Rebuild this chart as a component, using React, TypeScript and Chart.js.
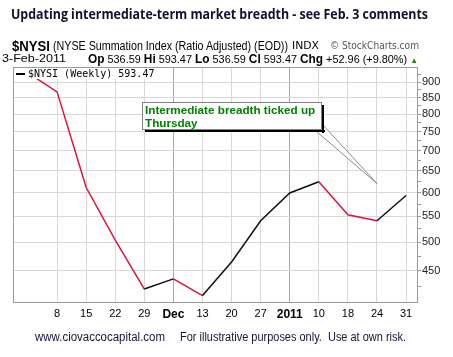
import React, { useEffect, useLayoutEffect, useRef } from "react";
import { Chart, registerables } from "chart.js";

Chart.register(...registerables);

const weeks: string[] = ["Nov 1", "Nov 8", "Nov 15", "Nov 22", "Nov 29", "Dec 6", "Dec 13", "Dec 20", "Dec 27", "Jan 3", "Jan 10", "Jan 18", "Jan 24", "Jan 31"];
const xTickLabels: string[] = ["", "8", "15", "22", "29", "Dec", "13", "20", "27", "2011", "10", "18", "24", "31"];
const boldTicks: string[] = ["Dec", "2011"];
const nysiValues: number[] = [931, 868, 611, 504, 421, 437, 411, 465, 541, 599, 624, 553, 541, 593.47];
const yMajorTicks: number[] = [450, 500, 550, 600, 650, 700, 750, 800, 850, 900];
const yMinorTicks: number[] = [425, 475, 525, 575, 625, 675, 725, 775, 825, 875, 925];
const annotationLines: string[] = ["Intermediate breadth ticked up", "Thursday"];
const annotationTarget = { index: 12, value: 620 };

const RED = "#dc143c";
const BLACK = "#111111";
const FONT = "'Liberation Sans', Arial, sans-serif";

const framePlugin = {
  id: "frameAndNotes",
  beforeDatasetsDraw(chart: any) {
    const { ctx, chartArea: a } = chart;
    ctx.save();
    ctx.strokeStyle = "#9a9a9a";
    ctx.lineWidth = 1;
    ctx.strokeRect(Math.round(a.left) + 0.5, Math.round(a.top) + 0.5, Math.round(a.right - a.left) - 1, Math.round(a.bottom - a.top) - 1);
    ctx.restore();
  },
  afterDatasetsDraw(chart: any) {
    const { ctx, chartArea: a, scales } = chart;
    const xs = scales.x;
    const ys = scales.y;
    ctx.save();
    // legend
    ctx.fillStyle = "#ffffff";
    ctx.fillRect(a.left + 1, a.top + 1, 150, 11);
    ctx.fillStyle = "#000";
    ctx.fillRect(a.left + 3, a.top + 6, 9, 2);
    ctx.font = "10px 'DejaVu Sans Mono', monospace";
    ctx.textBaseline = "middle";
    ctx.fillText("$NYSI (Weekly) " + nysiValues[nysiValues.length - 1].toFixed(2), a.left + 15, a.top + 7);

    // annotation box
    const bl = Math.round(xs.getPixelForValue(4)) - 2;
    const br = Math.round(xs.getPixelForValue(10)) + 3;
    const bt = Math.round(ys.getPixelForValue(835));
    const bb = bt + 28;
    const tx = xs.getPixelForValue(annotationTarget.index);
    const ty = ys.getPixelForValue(annotationTarget.value);
    ctx.beginPath();
    ctx.moveTo(br - 6, bb + 1);
    ctx.lineTo(tx, ty);
    ctx.lineTo(br + 1, bb - 5);
    ctx.closePath();
    ctx.fillStyle = "#fff";
    ctx.fill();
    ctx.beginPath();
    ctx.moveTo(br - 6, bb + 1);
    ctx.lineTo(tx, ty);
    ctx.lineTo(br + 1, bb - 5);
    ctx.strokeStyle = "#8a8a8a";
    ctx.lineWidth = 1;
    ctx.stroke();
    ctx.fillStyle = "#000";
    ctx.fillRect(bl + 3, bb, br - bl, 2);
    ctx.fillRect(br, bt + 3, 2, bb - bt);
    ctx.fillStyle = "#fff";
    ctx.fillRect(bl, bt, br - bl, bb - bt);
    ctx.strokeStyle = "#808080";
    ctx.strokeRect(bl + 0.5, bt + 0.5, br - bl - 1, bb - bt - 1);
    ctx.fillStyle = "#008000";
    ctx.font = "bold 11.7px " + FONT;
    ctx.textBaseline = "alphabetic";
    ctx.fillText(annotationLines[0], bl + 3, bt + 12);
    ctx.fillText(annotationLines[1], bl + 3, bt + 25);
    ctx.restore();
  },
};

function ChartCanvas() {
  const ref = useRef<HTMLCanvasElement | null>(null);
  useEffect(() => {
    if (!ref.current) return;
    const data = nysiValues.map((v, i) => ({ x: i, y: v }));
    const chart = new Chart(ref.current, {
      type: "line",
      data: {
        labels: weeks,
        datasets: [
          {
            label: "$NYSI (Weekly)",
            data,
            borderWidth: 1.5,
            pointRadius: 0,
            tension: 0,
            borderColor: BLACK,
            segment: {
              borderColor: (c: any) => (c.p1.parsed.y < c.p0.parsed.y ? RED : BLACK),
            },
          },
        ],
      },
      options: {
        animation: false,
        responsive: false,
        maintainAspectRatio: false,
        layout: { padding: { left: 13, top: 67, right: 0, bottom: 34 } },
        plugins: { legend: { display: false }, tooltip: { enabled: false } },
        scales: {
          x: {
            type: "linear",
            min: -0.516,
            max: 13.41,
            afterBuildTicks: (s: any) => {
              s.ticks = xTickLabels.map((_, i) => ({ value: i }));
            },
            afterFit: (s: any) => {
              s.height = 20;
            },
            border: { display: false },
            grid: {
              drawTicks: false,
              color: (c: any) => {
                const lbl = xTickLabels[c.tick?.value ?? 0];
                if (!lbl) return "rgba(0,0,0,0)";
                return boldTicks.includes(lbl) ? "#a8a8a8" : "#d8d8d8";
              },
            },
            ticks: {
              padding: 4,
              color: "#000",
              maxRotation: 0,
              autoSkip: false,
              callback: (v: any) => xTickLabels[v] ?? "",
              font: (c: any) => {
                const lbl = xTickLabels[c.tick?.value ?? 0];
                return boldTicks.includes(lbl)
                  ? { family: FONT, size: 12, weight: "bold" }
                  : { family: FONT, size: 11 };
              },
            },
          },
          y: {
            type: "logarithmic",
            position: "right",
            min: 400,
            max: 951,
            afterBuildTicks: (s: any) => {
              s.ticks = [...yMajorTicks, ...yMinorTicks].sort((a, b) => a - b).map((v) => ({ value: v, major: yMajorTicks.includes(v) }));
            },
            afterFit: (s: any) => {
              s.width = 35;
            },
            border: { display: false },
            grid: {
              tickLength: 3,
              color: (c: any) => (yMajorTicks.includes(c.tick?.value) ? "#d8d8d8" : "rgba(0,0,0,0)"),
              tickColor: "#9a9a9a",
            },
            ticks: {
              padding: 1,
              color: "#222",
              autoSkip: false,
              font: { family: FONT, size: 11 },
              callback: (v: any) => (yMajorTicks.includes(Number(v)) ? String(v) : ""),
            },
          },
        },
      },
      plugins: [framePlugin],
    } as any);
    return () => chart.destroy();
  }, []);
  return <canvas ref={ref} width={453} height={357} style={{ position: "absolute", left: 0, top: 0, width: 453, height: 357 }} />;
}

function FitText(props: { left: number; top: number; width: number; style?: React.CSSProperties; children: React.ReactNode }) {
  const ref = useRef<HTMLSpanElement | null>(null);
  useLayoutEffect(() => {
    const el = ref.current;
    if (!el) return;
    el.style.transform = "none";
    const w = el.getBoundingClientRect().width;
    if (w > 0) el.style.transform = `scaleX(${props.width / w})`;
  });
  return (
    <span
      ref={ref}
      style={{
        position: "absolute",
        left: props.left,
        top: props.top,
        whiteSpace: "pre",
        fontFamily: FONT,
        lineHeight: 1,
        display: "inline-block",
        transformOrigin: "0 0",
        ...props.style,
      }}
    >
      {props.children}
    </span>
  );
}

export default function App() {
  useEffect(() => {
    document.body.style.margin = "0";
  }, []);
  const b = { fontWeight: 700, fontSize: 12 } as React.CSSProperties;
  return (
    <div style={{ position: "fixed", left: 0, top: 0, width: 453, height: 357, background: "#fff", overflow: "hidden" }}>
      <ChartCanvas />
      <FitText left={11} top={7} width={417} style={{ fontFamily: "'Open Sans', sans-serif", fontWeight: 700, fontSize: 14, color: "#101030" }}>
        Updating intermediate-term market breadth - see Feb. 3 comments
      </FitText>
      <FitText left={12} top={38} width={38} style={{ fontWeight: 700, fontSize: 15, color: "#000" }}>$NYSI</FitText>
      <FitText left={53} top={40} width={235} style={{ fontSize: 12, color: "#000" }}>(NYSE Summation Index (Ratio Adjusted) (EOD))</FitText>
      <FitText left={292} top={41} width={27} style={{ fontSize: 10, color: "#000", fontFamily: "'DejaVu Sans', sans-serif" }}>INDX</FitText>
      <FitText left={330} top={40} width={89} style={{ fontSize: 11, color: "#555", fontFamily: "'DejaVu Sans', sans-serif" }}>© StockCharts.com</FitText>
      <FitText left={2} top={53} width={64} style={{ fontSize: 11, color: "#000" }}>3-Feb-2011</FitText>
      <FitText left={88} top={53} width={330} style={{ fontSize: 11, color: "#000" }}>
        <b style={b}>Op</b> 536.59 <b style={b}>Hi</b> 593.47 <b style={b}>Lo</b> 536.59 <b style={b}>Cl</b> 593.47 <b style={b}>Chg</b> +52.96 (+9.80%) <span style={{ color: "#2e7d32", fontSize: 8 }}>▲</span>
      </FitText>
      <FitText left={35} top={331} width={130} style={{ fontSize: 12, color: "#14143c" }}>www.ciovaccocapital.com</FitText>
      <FitText left={180} top={331} width={226} style={{ fontSize: 12, color: "#14143c" }}>For illustrative purposes only.  Use at own risk.</FitText>
    </div>
  );
}
